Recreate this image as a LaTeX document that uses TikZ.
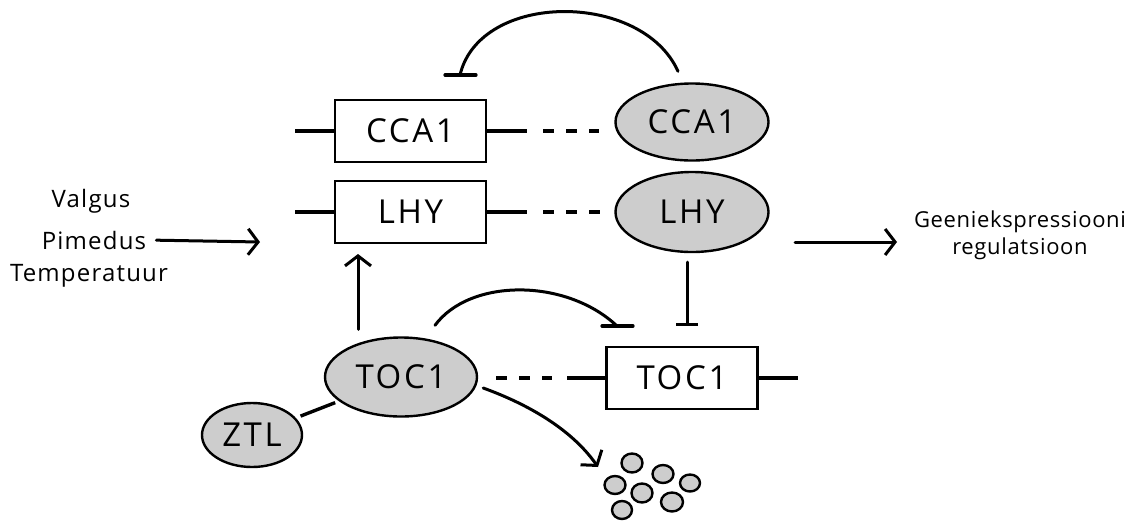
\documentclass[tikz,border=0pt]{standalone}
\usepackage{fontspec}
\setmainfont{Open Sans}
\usetikzlibrary{arrows.meta,shapes.geometric,calc}
\definecolor{protfill}{RGB}{205,205,205}
\tikzset{
  gene/.style={draw, line width=2.8pt, rectangle, minimum width=151pt, minimum height=62pt,
    inner sep=0pt, font=\fontsize{33}{33}\selectfont\addfontfeatures{LetterSpace=8}},
  prot/.style={draw, line width=2.4pt, ellipse, fill=protfill, inner sep=0pt,
    font=\fontsize{33}{33}\selectfont\addfontfeatures{LetterSpace=8}},
  blob/.style={draw, line width=2.4pt, fill=protfill},
  lead/.style={line width=3.4pt},
  link/.style={line width=3.2pt, dash pattern=on 11pt off 12pt},
  arc/.style={line width=3pt, line cap=round},
  barline/.style={line width=3.2pt, line cap=round},
  act/.style={line width=3pt, line cap=round, line join=round,
    -{Straight Barb[length=10pt,width=26pt,line width=3pt]}},
  inh/.style={line width=3pt, line cap=round, -{Bar[width=22pt,line width=3.2pt]}},
  lbl/.style={inner sep=0pt, font=\fontsize{24}{27}\selectfont\addfontfeatures{LetterSpace=5}, align=center},
  outlbl/.style={inner sep=0pt, font=\fontsize{22}{27}\selectfont\addfontfeatures{LetterSpace=3}, align=center}
}
\begin{document}
\begin{tikzpicture}[x=1pt,y=-1pt]
\useasboundingbox (0,0) rectangle (1144,523);

% genes (boxes) with their lead lines
\node[gene] (ccaG) at (410.5,131) {CCA1};
\node[gene] (lhyG) at (410.5,212) {LHY};
\node[gene] (tocG) at (682,378) {TOC1};

% proteins
\node[prot, minimum width=153pt, minimum height=77pt] (ccaP) at (692,122) {CCA1};
\node[prot, minimum width=153pt, minimum height=80pt] (lhyP) at (692,212) {LHY};
\node[prot, minimum width=152pt, minimum height=79pt] (tocP) at (401,377) {TOC1};
\node[prot, minimum width=100pt, minimum height=64pt] (ztl) at (252,435) {ZTL};

% free ends of lines
\coordinate (ccaL) at (295,131);
\coordinate (ccaR) at (527,131);
\coordinate (lhyL) at (295,212);
\coordinate (lhyR) at (527,212);
\coordinate (tocL) at (567,378);
\coordinate (tocR) at (798,378);
\coordinate (ccaT) at (460,75);
\coordinate (tocT) at (617,326);
\coordinate (lhyT) at (687,326);
\coordinate (upE) at (358,254);
\coordinate (inE) at (260,242);
\coordinate (outS) at (795,242);
\coordinate (outE) at (897,242);
\coordinate (degE) at (598,467);

\draw[lead] (ccaL) -- (ccaG.west);
\draw[lead] (ccaG.east) -- (ccaR);
\draw[lead] (lhyL) -- (lhyG.west);
\draw[lead] (lhyG.east) -- (lhyR);
\draw[lead] (tocL) -- (tocG.west);
\draw[lead] (tocG.east) -- (tocR);

% transcription / translation links
\draw[link, shorten <=16pt, shorten >=15pt] (ccaR) -- (ccaR -| ccaP.west);
\draw[link, shorten <=16pt, shorten >=14pt] (lhyR) -- (lhyP.west);
\draw[link, shorten <=18pt, shorten >=15pt] (tocP.east |- tocL) -- (tocL);

% CCA1 represses its own gene
\draw[arc] ($(ccaP.north)+(-14,-11)$) .. controls (642,-9) and (480,-9) .. (ccaT);
\draw[barline] ($(ccaT)+(-15,0)$) -- ($(ccaT)+(16,0)$);

% TOC1 represses its own gene
\draw[arc] ($(tocP.north)+(34,-11)$) .. controls (470,278) and (566,278) .. (tocT);
\draw[barline] ($(tocT)+(-15,0)$) -- ($(tocT)+(16,0)$);

% LHY represses TOC1
\draw[inh, shorten <=9pt] (lhyT |- lhyP.south) -- (lhyT);

% TOC1 activates LHY
\draw[act] ($(upE |- tocP.north)+(0,-7)$) -- (upE);

% ZTL binds TOC1
\draw[lead, shorten <=5pt, shorten >=4pt] (ztl) -- (tocP);

% degradation of TOC1
\draw[act] ($(tocP.east)+(5,11)$) .. controls (530,405) and (572,430) .. (degE);
\draw[blob] (632,463) ellipse [x radius=10.5pt, y radius=9.5pt];
\draw[blob] (663,474) ellipse [x radius=10.5pt, y radius=9pt];
\draw[blob] (690,483) ellipse [x radius=10pt, y radius=8.5pt];
\draw[blob] (615,485) ellipse [x radius=10.5pt, y radius=9pt];
\draw[blob] (642,493) ellipse [x radius=10.5pt, y radius=9.5pt];
\draw[blob] (672,502) ellipse [x radius=11pt, y radius=9.5pt];
\draw[blob] (622,510) ellipse [x radius=10pt, y radius=9pt];

% environmental inputs
\node[lbl] (valg) at (91,201) {Valgus};
\node[lbl] (pim) at (94,240) {Pimedus};
\node[lbl] (temp) at (89,276) {Temperatuur};
\draw[act, shorten <=10pt] (pim.east) -- (inE);

% output
\node[outlbl] (out) at (1020,235) {Geeniekspressiooni\\regulatsioon};
\draw[act] (outS) -- (outE);
\end{tikzpicture}
\end{document}
